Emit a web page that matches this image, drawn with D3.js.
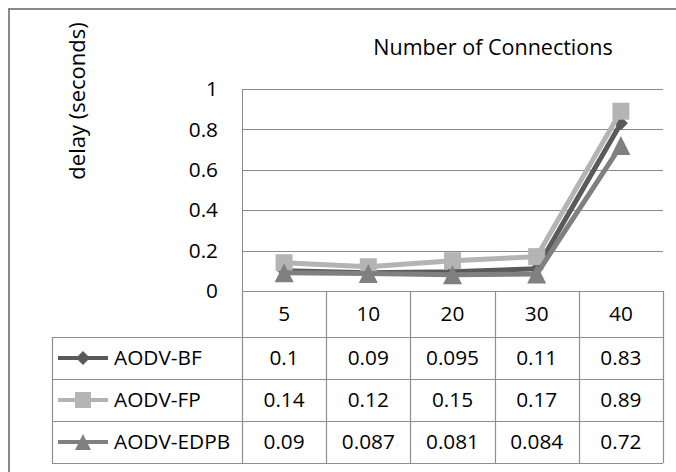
<!DOCTYPE html>
<html>
<head>
<meta charset="utf-8">
<script src="https://cdn.jsdelivr.net/npm/d3@7"></script>
<style>
  html, body { margin: 0; padding: 0; background: #fff; overflow: hidden; }
  svg { display: block; font-family: "Open Sans", Lato, sans-serif; }
</style>
</head>
<body>
<svg id="chart" width="676" height="472"></svg>
<script>
// Connections on the x axis
const categories = ["5", "10", "20", "30", "40"];
// Series and their average delay values (seconds)
const seriesNames = ["AODV-BF", "AODV-FP", "AODV-EDPB"];
const bfValues = [0.1, 0.09, 0.095, 0.11, 0.83];
const fpValues = [0.14, 0.12, 0.15, 0.17, 0.89];
const edpbValues = [0.09, 0.087, 0.081, 0.084, 0.72];
const valueLabels = [
  ["0.1", "0.09", "0.095", "0.11", "0.83"],
  ["0.14", "0.12", "0.15", "0.17", "0.89"],
  ["0.09", "0.087", "0.081", "0.084", "0.72"]
];
const yTicks = [0, 0.2, 0.4, 0.6, 0.8, 1];

const series = [
  { name: seriesNames[0], values: bfValues, color: "#5a5a5a", marker: "diamond" },
  { name: seriesNames[1], values: fpValues, color: "#b4b4b4", marker: "square" },
  { name: seriesNames[2], values: edpbValues, color: "#808080", marker: "triangle" }
];

const svg = d3.select("#chart");
const gridColor = "#8a8a8a";
const tableColor = "#8f8f8f";
const fontSize = 20.8;

const plot = { left: 242, right: 663, top: 89, bottom: 291 };
const x = d3.scaleBand().domain(categories).range([plot.left, plot.right]);
const y = d3.scaleLinear().domain([0, 1]).range([plot.bottom, plot.top]);

// Outer chart frame (runs past the right and bottom edges)
svg.append("path")
  .attr("d", "M9,480V9H680")
  .attr("fill", "none").attr("stroke", "#888").attr("stroke-width", 2);

// Horizontal gridlines
svg.append("g").selectAll("line").data(yTicks).join("line")
  .attr("x1", plot.left).attr("x2", plot.right)
  .attr("y1", d => Math.round(y(d)) + 0.5).attr("y2", d => Math.round(y(d)) + 0.5)
  .attr("stroke", gridColor).attr("stroke-width", 1);

// Vertical axis line
svg.append("line")
  .attr("x1", plot.left + 0.5).attr("x2", plot.left + 0.5)
  .attr("y1", plot.top).attr("y2", plot.bottom)
  .attr("stroke", gridColor);

// Y tick labels
svg.append("g").selectAll("text").data(yTicks).join("text")
  .attr("x", 218).attr("y", d => y(d))
  .attr("dy", "0.35em")
  .attr("text-anchor", "end")
  .attr("font-size", fontSize).attr("fill", "#000")
  .text(d => d3.format("~g")(d));

// Axis titles
svg.append("text")
  .attr("transform", "translate(85,101) rotate(-90)")
  .attr("text-anchor", "middle")
  .attr("font-size", 22).attr("fill", "#000")
  .text("delay (seconds)");

svg.append("text")
  .attr("x", 493).attr("y", 55)
  .attr("text-anchor", "middle")
  .attr("font-size", 21.5).attr("fill", "#000")
  .text("Number of Connections");

// Marker shapes
function markerPath(type, size) {
  const h = size / 2;
  if (type === "square") return `M${-h},${-h}H${h}V${h}H${-h}Z`;
  if (type === "diamond") return `M0,${-h}L${h},0L0,${h}L${-h},0Z`;
  return `M0,${-h}L${h},${h}L${-h},${h}Z`;
}
const markerSize = { square: 17, diamond: 14, triangle: 19 };

// Series lines and markers
const line = d3.line()
  .x((d, i) => x(categories[i]) + x.bandwidth() / 2)
  .y(d => y(d));

const seriesG = svg.append("g").selectAll("g").data(series).join("g");
seriesG.append("path")
  .attr("d", d => line(d.values))
  .attr("fill", "none")
  .attr("stroke", d => d.color)
  .attr("stroke-width", 5)
  .attr("stroke-linejoin", "round");
seriesG.each(function(s) {
  d3.select(this).selectAll("path.mk").data(s.values).join("path")
    .attr("class", "mk")
    .attr("transform", (d, i) => `translate(${x(categories[i]) + x.bandwidth() / 2},${y(d)})`)
    .attr("d", markerPath(s.marker, markerSize[s.marker]))
    .attr("fill", s.color);
});

// Data table below the plot
const tableLeft = 52;
const headerBottom = 337;
const rowH = 42;
const rowTops = seriesNames.map((_, i) => headerBottom + i * rowH);
const tableBottom = headerBottom + seriesNames.length * rowH;
const tbl = svg.append("g").attr("stroke", tableColor).attr("stroke-width", 1.2);

// Header cells (category labels)
tbl.append("line").attr("x1", plot.left).attr("x2", plot.right)
  .attr("y1", plot.bottom + 0.5).attr("y2", plot.bottom + 0.5);
// Horizontal rules of data rows
[headerBottom, ...rowTops.slice(1), tableBottom].forEach(yy => {
  tbl.append("line").attr("x1", tableLeft).attr("x2", plot.right)
    .attr("y1", yy + 0.5).attr("y2", yy + 0.5);
});
// Vertical rules
tbl.append("line").attr("x1", tableLeft + 0.5).attr("x2", tableLeft + 0.5)
  .attr("y1", headerBottom).attr("y2", tableBottom);
[...categories.map(c => x(c)), plot.right].forEach(xx => {
  tbl.append("line").attr("x1", Math.round(xx) + 0.5).attr("x2", Math.round(xx) + 0.5)
    .attr("y1", plot.bottom).attr("y2", tableBottom);
});

// Category labels
svg.append("g").selectAll("text").data(categories).join("text")
  .attr("x", d => x(d) + x.bandwidth() / 2)
  .attr("y", (plot.bottom + headerBottom) / 2)
  .attr("dy", "0.35em")
  .attr("text-anchor", "middle")
  .attr("font-size", fontSize).attr("fill", "#000")
  .text(d => d);

// Legend keys and values
series.forEach((s, r) => {
  const cy = rowTops[r] + rowH / 2;
  const g = svg.append("g");
  g.append("line").attr("x1", 58).attr("x2", 108)
    .attr("y1", cy).attr("y2", cy)
    .attr("stroke", s.color).attr("stroke-width", 4);
  g.append("path")
    .attr("transform", `translate(83,${cy})`)
    .attr("d", markerPath(s.marker, s.marker === "diamond" ? 14 : 16))
    .attr("fill", s.color);
  g.append("text")
    .attr("x", 114).attr("y", cy).attr("dy", "0.35em")
    .attr("font-size", fontSize).attr("fill", "#000")
    .text(s.name);
  g.selectAll("text.val").data(valueLabels[r]).join("text")
    .attr("class", "val")
    .attr("x", (d, i) => x(categories[i]) + x.bandwidth() / 2)
    .attr("y", cy).attr("dy", "0.35em")
    .attr("text-anchor", "middle")
    .attr("font-size", fontSize).attr("fill", "#000")
    .text(d => d);
});
</script>
</body>
</html>
